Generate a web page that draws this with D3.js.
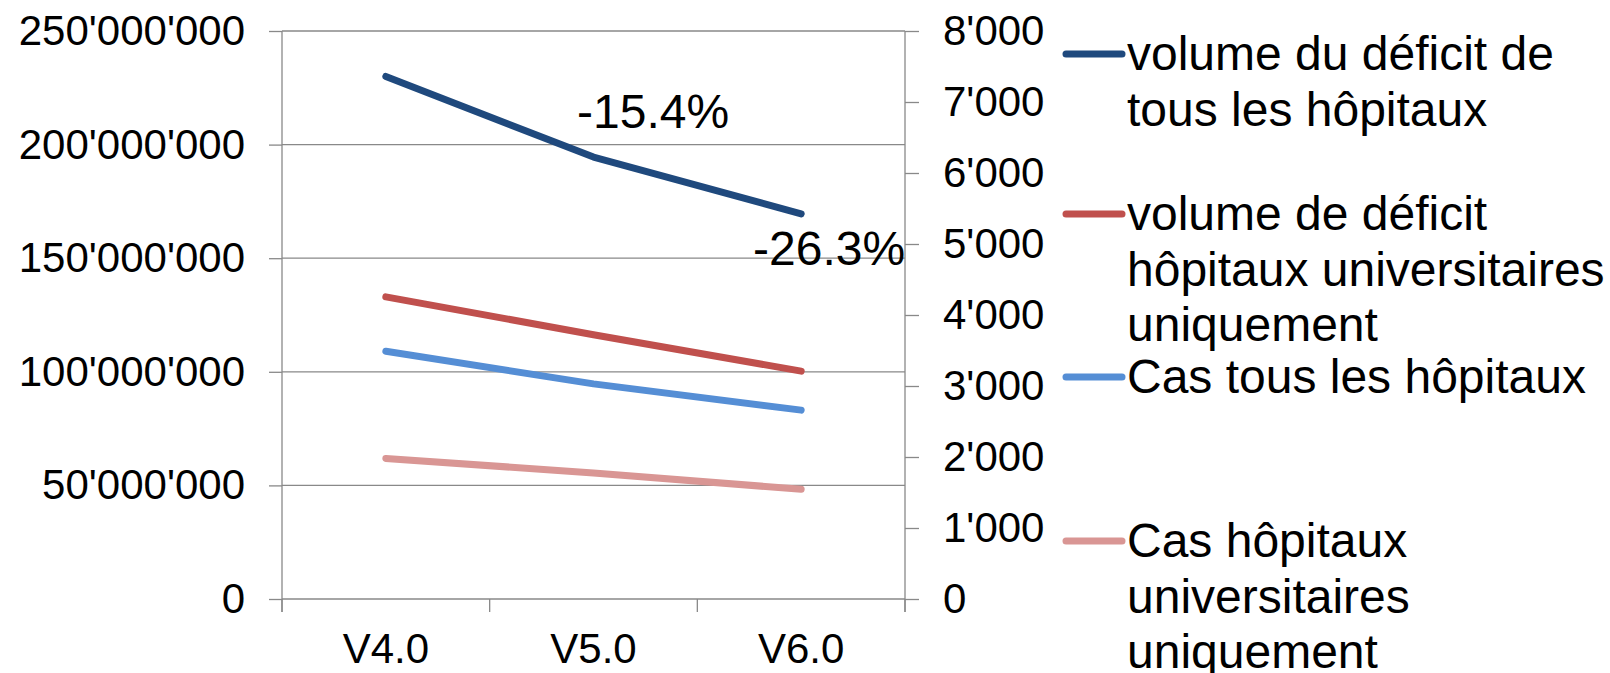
<!DOCTYPE html>
<html>
<head>
<meta charset="utf-8">
<script src="https://cdn.jsdelivr.net/npm/d3@7"></script>
<style>
  html, body { margin: 0; padding: 0; background: #fff; }
  svg { display: block; }
  text { font-family: "Liberation Sans", Arial, sans-serif; fill: #000; }
</style>
</head>
<body>
<svg id="chart" width="1610" height="673"></svg>
<script>
// ---- data ----
const categories = ["V4.0", "V5.0", "V6.0"];
const deficitAll = [230000000, 194500000, 169500000];   // left axis
const deficitUniv = [133000000, 116300000, 100300000];  // left axis
const casesAll = [3490, 3030, 2660];                   // right axis
const casesUniv = [1980, 1775, 1545];                  // right axis
const leftTicks = [0, 50000000, 100000000, 150000000, 200000000, 250000000];
const rightTicks = [0, 1000, 2000, 3000, 4000, 5000, 6000, 7000, 8000];
const annotations = ["-15.4%", "-26.3%"];
const seriesNames = [
  ["volume du déficit de", "tous les hôpitaux"],
  ["volume de déficit", "hôpitaux universitaires", "uniquement"],
  ["Cas tous les hôpitaux"],
  ["Cas hôpitaux", "universitaires", "uniquement"]
];

// ---- layout ----
const plot = { left: 282, right: 905, top: 31, bottom: 599 };
const colors = ["#1F497D", "#C0504D", "#558ED5", "#D99694"];
const gridColor = "#898989";
const tickFont = 42;
const bigFont = 48;

const svg = d3.select("#chart");
const fmt = v => d3.format(",")(v).replace(/,/g, "'");

const x = d3.scaleBand().domain(categories).range([plot.left, plot.right]);
const cx = c => x(c) + x.bandwidth() / 2;
const yL = d3.scaleLinear().domain([0, 250000000]).range([plot.bottom, plot.top]);
const yR = d3.scaleLinear().domain([0, 8000]).range([plot.bottom, plot.top]);

// gridlines
svg.append("g").selectAll("line").data(leftTicks).join("line")
  .attr("x1", plot.left).attr("x2", plot.right)
  .attr("y1", d => yL(d)).attr("y2", d => yL(d))
  .attr("stroke", gridColor).attr("stroke-width", 1.3);

// left axis
const gL = svg.append("g").attr("transform", `translate(${plot.left},0)`)
  .call(d3.axisLeft(yL).tickValues(leftTicks).tickFormat(fmt).tickSize(13).tickPadding(24));
// right axis
const gR = svg.append("g").attr("transform", `translate(${plot.right},0)`)
  .call(d3.axisRight(yR).tickValues(rightTicks).tickFormat(fmt).tickSize(14).tickPadding(24));
[gL, gR].forEach(g => {
  g.select(".domain").attr("stroke", gridColor).attr("stroke-width", 1.3)
    .attr("d", `M0,${plot.top}V${plot.bottom + 13}`);
  g.selectAll(".tick line").attr("stroke", gridColor).attr("stroke-width", 1.3);
  g.selectAll(".tick text").attr("font-size", tickFont).attr("fill", "#000")
    .attr("font-family", "Liberation Sans, Arial, sans-serif");
});

// category axis
const bounds = categories.map(c => x(c)).concat([plot.right]);
svg.append("g").selectAll("line").data(bounds).join("line")
  .attr("x1", d => d).attr("x2", d => d)
  .attr("y1", plot.bottom).attr("y2", plot.bottom + 13)
  .attr("stroke", gridColor).attr("stroke-width", 1.3);
svg.append("g").selectAll("text").data(categories).join("text")
  .attr("x", d => cx(d)).attr("y", 663)
  .attr("text-anchor", "middle").attr("font-size", tickFont)
  .text(d => d);

// series lines
const series = [
  { vals: deficitAll, y: yL },
  { vals: deficitUniv, y: yL },
  { vals: casesAll, y: yR },
  { vals: casesUniv, y: yR }
];
const line = d3.line();
series.forEach((s, i) => {
  svg.append("path")
    .attr("d", line(categories.map((c, j) => [cx(c), s.y(s.vals[j])])))
    .attr("fill", "none").attr("stroke", colors[i]).attr("stroke-width", 7)
    .attr("stroke-linecap", "round").attr("stroke-linejoin", "round");
});

// annotations
svg.append("text").attr("x", 577).attr("y", 128).attr("font-size", bigFont).text(annotations[0]);
svg.append("text").attr("x", 753).attr("y", 265).attr("font-size", bigFont).text(annotations[1]);

// legend
const legendY = [54, 214, 377, 541];
const lineH = 55.5;
const lg = svg.append("g");
seriesNames.forEach((lines, i) => {
  lg.append("line").attr("x1", 1066).attr("x2", 1122)
    .attr("y1", legendY[i]).attr("y2", legendY[i])
    .attr("stroke", colors[i]).attr("stroke-width", 7).attr("stroke-linecap", "round");
  const t = lg.append("text").attr("font-size", bigFont);
  lines.forEach((ln, k) => {
    t.append("tspan").attr("x", 1127).attr("y", legendY[i] + 16 + k * lineH).text(ln);
  });
});
</script>
</body>
</html>
